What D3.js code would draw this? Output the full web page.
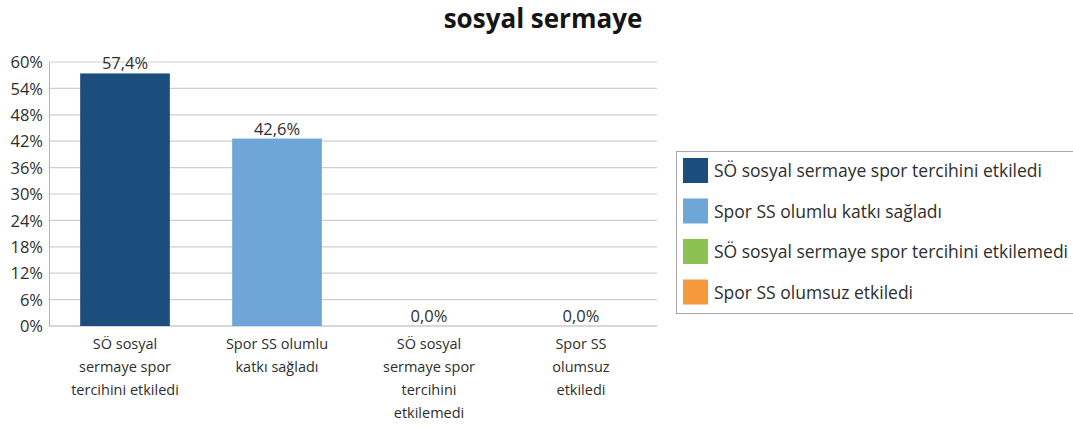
<!DOCTYPE html>
<html>
<head>
    <meta charset="utf-8">
    <title>sosyal sermaye</title>
    <script src="https://d3js.org/d3.v7.min.js"></script>
    <style>
        body {
            margin: 0;
            background: #fff;
            font-family: 'Open Sans', sans-serif;
        }
        #chart text {
            fill: #2e2e2e;
        }
    </style>
</head>
<body>
    <div id="chart"></div>
    <script>
        const categories = [
            "SÖ sosyal sermaye spor tercihini etkiledi",
            "Spor SS olumlu katkı sağladı",
            "SÖ sosyal sermaye spor tercihini etkilemedi",
            "Spor SS olumsuz etkiledi"
        ]
        // axis labels wrap like the original
        const categoryLines = [
            ["SÖ sosyal", "sermaye spor", "tercihini etkiledi"],
            ["Spor SS olumlu", "katkı sağladı"],
            ["SÖ sosyal", "sermaye spor", "tercihini", "etkilemedi"],
            ["Spor SS", "olumsuz", "etkiledi"]
        ]
        const values = [57.4, 42.6, 0.0, 0.0]
        const colors = ["#1c4e7d", "#6ea6d7", "#8cc152", "#f59a3c"]
        const yTicks = [0, 6, 12, 18, 24, 30, 36, 42, 48, 54, 60]

        const width = 1073, height = 427
        const margin = { top: 62, left: 49, right: 416, bottom: 101 }

        const svg = d3.select("#chart").append("svg")
            .attr("width", width)
            .attr("height", height)

        const x = d3.scaleBand()
            .domain(categories)
            .range([margin.left, width - margin.right])
            .paddingInner(0.41)
            .paddingOuter(0.205)

        const y = d3.scaleLinear()
            .domain([0, 60])
            .range([height - margin.bottom, margin.top])

        // title
        svg.append("text")
            .attr("x", 543)
            .attr("y", 28)
            .attr("text-anchor", "middle")
            .style("font-size", "26px")
            .style("font-weight", "bold")
            .style("fill", "#151515")
            .text("sosyal sermaye")

        // grid
        svg.append("g")
            .selectAll("line")
            .data(yTicks.filter(d => d > 0))
            .join("line")
            .attr("x1", margin.left)
            .attr("x2", width - margin.right)
            .attr("y1", d => y(d))
            .attr("y2", d => y(d))
            .attr("stroke", "#cfcfcf")
            .attr("stroke-width", 1.2)

        // y axis
        const yAxis = svg.append("g")
            .attr("transform", `translate(${margin.left},0)`)
            .call(d3.axisLeft(y).tickValues(yTicks).tickFormat(d => d + "%").tickSize(0).tickPadding(6))
        yAxis.select(".domain").attr("stroke", "#b0b0b0")
        yAxis.selectAll("text")
            .style("font-size", "16.5px")
            .style("font-family", "'Open Sans', sans-serif")
            .attr("dy", "0.35em")

        // x axis baseline
        svg.append("line")
            .attr("x1", margin.left)
            .attr("x2", width - margin.right)
            .attr("y1", y(0))
            .attr("y2", y(0))
            .attr("stroke", "#b0b0b0")

        // bars
        svg.append("g")
            .selectAll("rect")
            .data(values)
            .join("rect")
            .attr("x", (d, i) => x(categories[i]))
            .attr("y", d => y(d))
            .attr("width", x.bandwidth())
            .attr("height", d => y(0) - y(d))
            .attr("fill", (d, i) => colors[i])

        // value labels
        svg.append("g")
            .selectAll("text")
            .data(values)
            .join("text")
            .attr("x", (d, i) => x(categories[i]) + x.bandwidth() / 2)
            .attr("y", d => y(d) - 4)
            .attr("text-anchor", "middle")
            .style("font-size", "16.5px")
            .text(d => d.toFixed(1).replace(".", ",") + "%")

        // category labels
        const catG = svg.append("g")
        categoryLines.forEach((lines, i) => {
            const t = catG.append("text")
                .attr("x", x(categories[i]) + x.bandwidth() / 2)
                .attr("y", 349)
                .attr("text-anchor", "middle")
                .style("font-size", "14.5px")
            lines.forEach((ln, j) => {
                t.append("tspan")
                    .attr("x", x(categories[i]) + x.bandwidth() / 2)
                    .attr("dy", j === 0 ? 0 : 23)
                    .text(ln)
            })
        })

        // legend
        const legend = svg.append("g").attr("transform", "translate(676,151)")
        legend.append("rect")
            .attr("x", 0.5)
            .attr("y", 0.5)
            .attr("width", 400)
            .attr("height", 162)
            .attr("fill", "none")
            .attr("stroke", "#a8a8a8")

        const items = legend.selectAll("g.item")
            .data(categories)
            .join("g")
            .attr("class", "item")
            .attr("transform", (d, i) => `translate(7,${7 + i * 40.5})`)
        items.append("rect")
            .attr("width", 25)
            .attr("height", 25)
            .attr("fill", (d, i) => colors[i])
        items.append("text")
            .attr("x", 31)
            .attr("y", 19)
            .style("font-size", "17.5px")
            .text(d => d)
    </script>
</body>
</html>
